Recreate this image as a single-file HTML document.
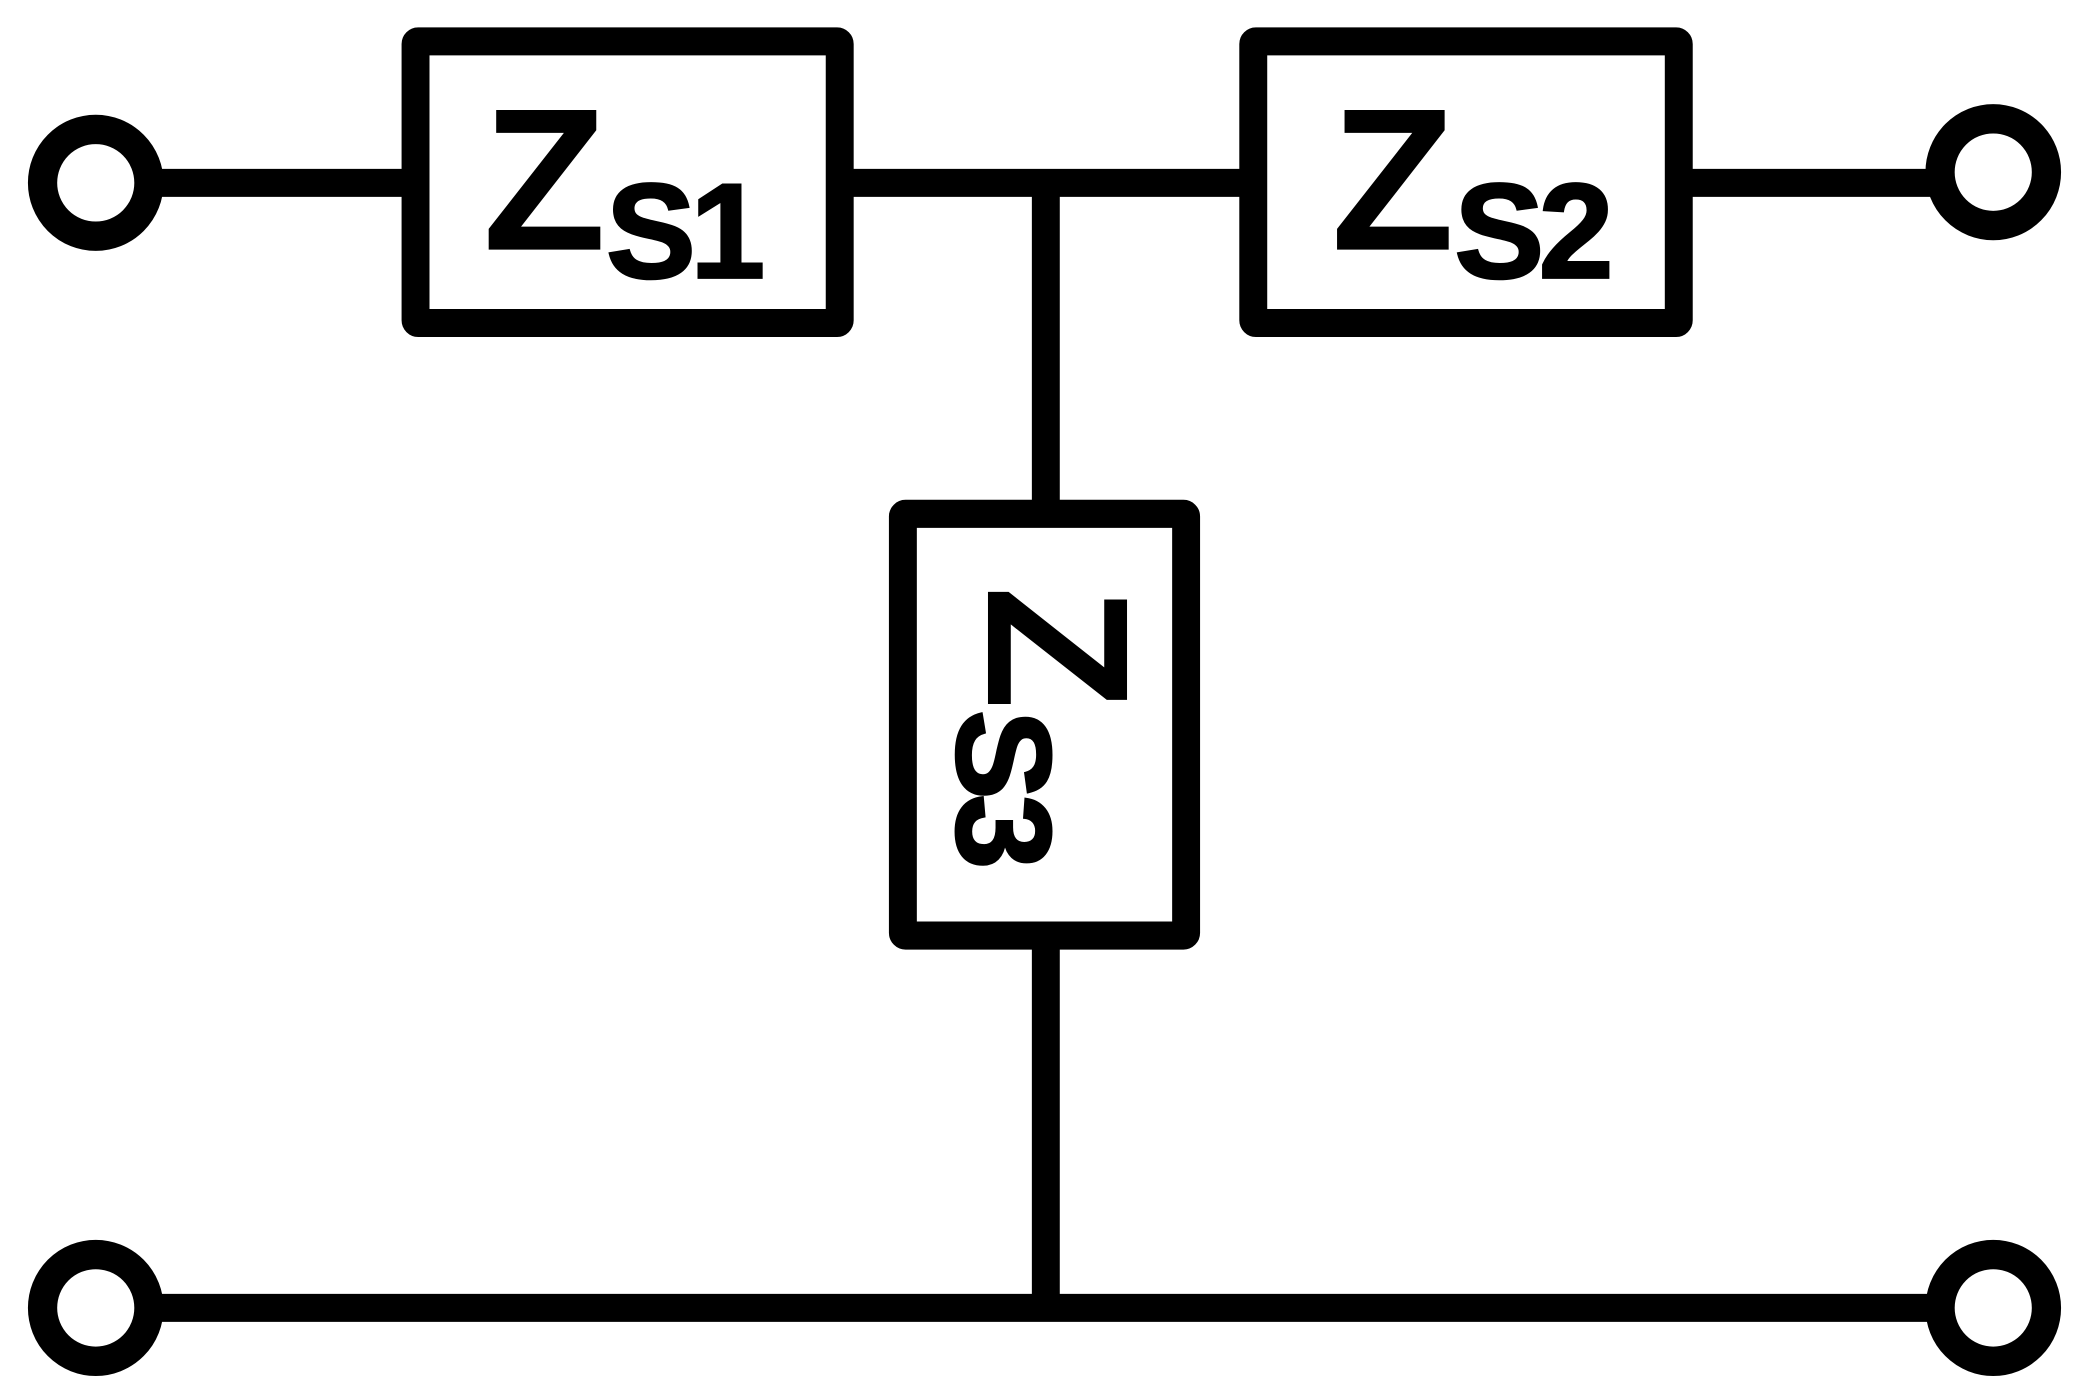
<!DOCTYPE html>
<html><head><style>html,body{margin:0;padding:0;background:#fff}svg{display:block}</style></head>
<body>
<svg width="2085" height="1396" viewBox="0 0 1568 1046" preserveAspectRatio="none" xmlns="http://www.w3.org/2000/svg">
<g stroke="#000" stroke-width="21" fill="none" stroke-linejoin="round">
<line x1="112" y1="137" x2="312" y2="137"/>
<line x1="632" y1="137" x2="942" y2="137"/>
<line x1="1263" y1="137" x2="1460" y2="137"/>
<line x1="786.5" y1="137" x2="786.5" y2="385"/>
<line x1="786.5" y1="702" x2="786.5" y2="980"/>
<line x1="112" y1="980" x2="1460" y2="980"/>
<rect x="312.5" y="31" width="319" height="211" rx="2"/>
<rect x="942.5" y="31" width="320" height="211" rx="2"/>
<rect x="679" y="385" width="213" height="316" rx="2"/>
<circle cx="72" cy="137" r="40" stroke-width="22"/>
<circle cx="1499" cy="129" r="40" stroke-width="22"/>
<circle cx="72" cy="980" r="40" stroke-width="22"/>
<circle cx="1499" cy="980" r="40" stroke-width="22"/>
</g>
<g font-family="Liberation Sans, sans-serif" font-weight="bold" fill="#000">
<text x="363" y="187" font-size="152">Z<tspan font-size="101" dy="21" stroke="#000" stroke-width="2" letter-spacing="-4">S1</tspan></text>
<text x="1001" y="187" font-size="152">Z<tspan font-size="101" dy="21" stroke="#000" stroke-width="2" letter-spacing="-4">S2</tspan></text>
<text transform="translate(743,439) rotate(90)" font-size="152">Z<tspan font-size="101" dy="23" stroke="#000" stroke-width="2" letter-spacing="-4">S3</tspan></text>
</g>
</svg>
</body></html>
